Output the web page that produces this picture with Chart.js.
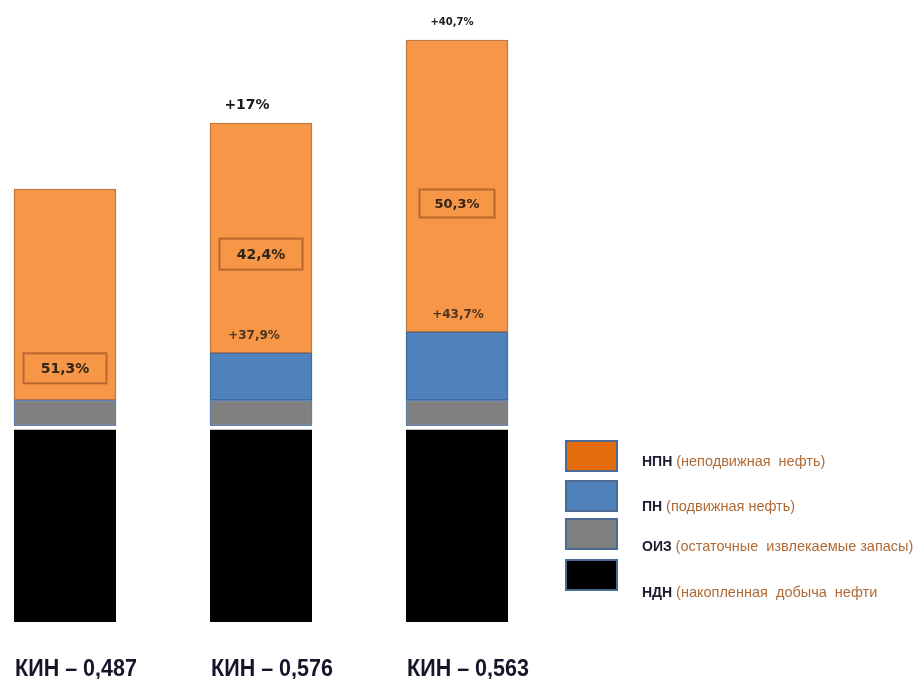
<!DOCTYPE html>
<html>
<head>
<meta charset="utf-8">
<script src="https://cdn.jsdelivr.net/npm/chart.js@4/dist/chart.umd.min.js"></script>
<style>
  html,body{margin:0;padding:0;background:#fff;}
  #c{display:block;}
</style>
</head>
<body>
<canvas id="c" width="917" height="679"></canvas>
<script>
// ---- data ----
const categories = ['КИН – 0,487', 'КИН – 0,576', 'КИН – 0,563'];
const ndnValues = [196, 196, 196];   // НДН (накопленная добыча нефти)
const oizValues = [26, 26, 26];      // ОИЗ (остаточные извлекаемые запасы)
const pnValues  = [0, 47, 68];       // ПН (подвижная нефть)
const npnValues = [211, 230, 292];   // НПН (неподвижная нефть)
const shareLabels = ['51,3%', '42,4%', '50,3%'];
const pnGrowthLabels = ['', '+37,9%', '+43,7%'];
const totalGrowthLabels = ['', '+17%', '+40,7%'];
const legendShort = ['НПН', 'ПН', 'ОИЗ', 'НДН'];
const legendLong = ['(неподвижная  нефть)', '(подвижная нефть)', '(остаточные  извлекаемые запасы)', '(накопленная  добыча  нефти'];

// ---- styles ----
const boxPos = [0.15, 0.43, 0.44];
const boxW = [83, 83, 75], boxH = [30, 31, 28];
const topDx = [0, -14, -5];
const topFont = ['bold 14px "DejaVu Sans"', 'bold 14px "DejaVu Sans"', 'bold 10px "DejaVu Sans"'];
const pnDx = [0, -7, 1];
const legendColors = ['#e46c0a', '#4f81bd', '#7f7f7f', '#000000'];
const legendBoxY = [441, 481, 519, 560];
const legendTextY = [462, 507, 547, 593];

const annotPlugin = {
  id: 'annot',
  afterDatasetsDraw(chart) {
    const ctx = chart.ctx;
    const meta = chart.getDatasetMeta(3);
    ctx.save();
    ctx.textAlign = 'center';
    ctx.textBaseline = 'middle';
    meta.data.forEach((el, i) => {
      const p = el.getProps(['x', 'y', 'base'], true);
      const cy = p.base - boxPos[i] * (p.base - p.y);
      ctx.strokeStyle = '#b8672e';
      ctx.lineWidth = 2;
      ctx.strokeRect(p.x - boxW[i] / 2, cy - boxH[i] / 2, boxW[i], boxH[i]);
      ctx.fillStyle = '#2e2418';
      ctx.font = (i === 2 ? 'bold 13px' : 'bold 14px') + ' "DejaVu Sans"';
      ctx.fillText(shareLabels[i], p.x, cy + 1);
      if (pnGrowthLabels[i]) {
        ctx.fillStyle = '#4a3522';
        ctx.font = 'bold 12px "DejaVu Sans"';
        ctx.fillText(pnGrowthLabels[i], p.x + pnDx[i], p.base - 17);
      }
      if (totalGrowthLabels[i]) {
        ctx.fillStyle = '#1a1a1a';
        ctx.font = topFont[i];
        ctx.fillText(totalGrowthLabels[i], p.x + topDx[i], p.y - 18);
      }
    });
    // category labels under the bars (condensed bold)
    const xs = chart.scales.x;
    chart.data.labels.forEach((lab, i) => {
      const px = xs.getPixelForTick(i) + 11;
      ctx.save();
      ctx.translate(px, 676);
      ctx.scale(0.86, 0.96);
      ctx.font = 'bold 25px "Liberation Sans"';
      ctx.fillStyle = '#15152a';
      ctx.textAlign = 'center';
      ctx.textBaseline = 'alphabetic';
      ctx.fillText(lab, 0, 0);
      ctx.restore();
    });
    ctx.restore();
  },
  afterDraw(chart) {
    const ctx = chart.ctx;
    ctx.save();
    for (let i = 0; i < legendShort.length; i++) {
      ctx.fillStyle = legendColors[i];
      ctx.fillRect(566, legendBoxY[i], 51, 30);
      ctx.strokeStyle = '#4a6a94';
      ctx.lineWidth = 2;
      ctx.strokeRect(566, legendBoxY[i], 51, 30);
      ctx.textAlign = 'left';
      ctx.textBaseline = 'middle';
      ctx.font = 'bold 14px "Liberation Sans"';
      ctx.fillStyle = '#1b1b2e';
      ctx.fillText(legendShort[i], 642, legendTextY[i]);
      const w = ctx.measureText(legendShort[i] + ' ').width;
      ctx.font = '14.5px "Liberation Sans"';
      ctx.fillStyle = '#b06a36';
      ctx.fillText(legendLong[i], 642 + w, legendTextY[i]);
    }
    ctx.restore();
  }
};

new Chart(document.getElementById('c'), {
  type: 'bar',
  data: {
    labels: categories,
    datasets: [
      { label: 'НДН', data: ndnValues, backgroundColor: '#000000', borderColor: '#ffffff',
        borderWidth: { top: 4, left: 0, right: 0, bottom: 0 }, borderSkipped: false },
      { label: 'ОИЗ', data: oizValues, backgroundColor: '#808080', borderColor: '#5a7fb0', borderWidth: 1.5, borderSkipped: false },
      { label: 'ПН', data: pnValues, backgroundColor: '#4f81bd', borderColor: '#3e6a9e', borderWidth: 1.5, borderSkipped: false },
      { label: 'НПН', data: npnValues, backgroundColor: '#f79646', borderColor: '#c2773c', borderWidth: 1.5, borderSkipped: false }
    ]
  },
  options: {
    responsive: false,
    animation: false,
    layout: { padding: { top: 22, left: 65, right: 460, bottom: 57 } },
    datasets: { bar: { barThickness: 102, clip: false } },
    scales: {
      x: { stacked: true, offset: false, display: false },
      y: { stacked: true, display: false, min: 0, max: 600 }
    },
    plugins: { legend: { display: false }, tooltip: { enabled: false } }
  },
  plugins: [annotPlugin]
});
</script>
</body>
</html>
